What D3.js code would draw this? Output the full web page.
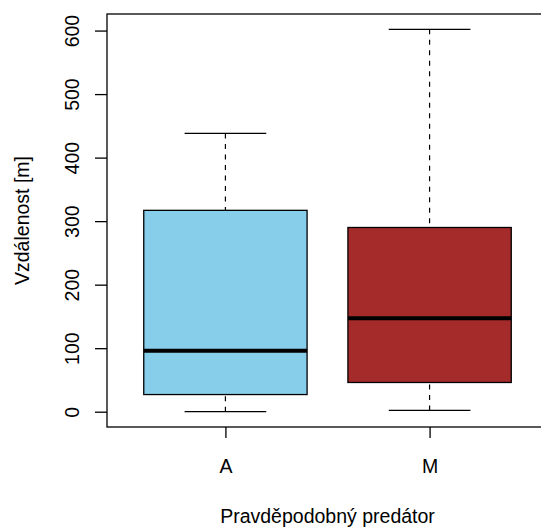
<!DOCTYPE html>
<html>
<head>
<meta charset="utf-8">
<script src="https://cdn.jsdelivr.net/npm/d3@7"></script>
<style>
  body { margin: 0; background: #fff; }
  svg { display: block; font-family: "Liberation Sans", Arial, sans-serif; }
</style>
</head>
<body>
<div id="chart"></div>
<script>
// box statistics
var groups = ["A", "M"];
var lowerWhisker = [0, 2];
var q1 = [27, 46];
var median = [96, 147];
var q3 = [317, 290];
var upperWhisker = [438, 602];
var fills = ["#87CEEB", "#A52A2A"];
var yTicks = [0, 100, 200, 300, 400, 500, 600];

var width = 541, height = 529;
var plot = {left: 107, top: 14, right: 548, bottom: 427};
var fontSize = "19.5px";

var svg = d3.select("#chart").append("svg")
    .attr("width", width)
    .attr("height", height);

// R style: x from 0.42 to 2.58 (xlim 0.5..2.5 plus 4%)
var x = d3.scaleLinear().domain([0.42, 2.58]).range([plot.left, plot.right]);
var yMin = d3.min(lowerWhisker), yMax = d3.max(upperWhisker);
var pad = (yMax - yMin) * 0.04;
var y = d3.scaleLinear().domain([yMin - pad, yMax + pad]).range([plot.bottom, plot.top]);

var data = groups.map(function(g, i) {
    return {name: g, pos: i + 1, lo: lowerWhisker[i], q1: q1[i], med: median[i],
            q3: q3[i], hi: upperWhisker[i], fill: fills[i]};
});

var boxHalf = 0.4, capHalf = 0.2;

var g = svg.append("g");

// dashed whiskers
g.selectAll("line.whiskLow").data(data).enter().append("line")
    .attr("x1", d => x(d.pos)).attr("x2", d => x(d.pos))
    .attr("y1", d => y(d.lo)).attr("y2", d => y(d.q1))
    .attr("stroke", "#000").attr("stroke-width", 1.2)
    .attr("stroke-dasharray", "5,5.5");
g.selectAll("line.whiskHigh").data(data).enter().append("line")
    .attr("x1", d => x(d.pos)).attr("x2", d => x(d.pos))
    .attr("y1", d => y(d.hi)).attr("y2", d => y(d.q3))
    .attr("stroke", "#000").attr("stroke-width", 1.2)
    .attr("stroke-dasharray", "5,5.5");

// caps
["lo", "hi"].forEach(function(k) {
    g.selectAll("line.cap" + k).data(data).enter().append("line")
        .attr("x1", d => x(d.pos - capHalf)).attr("x2", d => x(d.pos + capHalf))
        .attr("y1", d => y(d[k])).attr("y2", d => y(d[k]))
        .attr("stroke", "#000").attr("stroke-width", 1.3);
});

// boxes
g.selectAll("rect").data(data).enter().append("rect")
    .attr("x", d => x(d.pos - boxHalf))
    .attr("width", d => x(d.pos + boxHalf) - x(d.pos - boxHalf))
    .attr("y", d => y(d.q3))
    .attr("height", d => y(d.q1) - y(d.q3))
    .attr("fill", d => d.fill)
    .attr("stroke", "#000").attr("stroke-width", 1.3);

// medians
g.selectAll("line.med").data(data).enter().append("line")
    .attr("x1", d => x(d.pos - boxHalf)).attr("x2", d => x(d.pos + boxHalf))
    .attr("y1", d => y(d.med)).attr("y2", d => y(d.med))
    .attr("stroke", "#000").attr("stroke-width", 4);

// frame (right side falls outside the picture)
svg.append("rect")
    .attr("x", plot.left).attr("y", plot.top)
    .attr("width", plot.right - plot.left).attr("height", plot.bottom - plot.top)
    .attr("fill", "none").attr("stroke", "#000").attr("stroke-width", 1.3);

// y axis
var yAxis = d3.axisLeft(y).tickValues(yTicks).tickSize(12).tickPadding(0).tickFormat(d3.format("d"));
var ya = svg.append("g").attr("transform", "translate(" + plot.left + ",0)").call(yAxis);
ya.select(".domain").remove();
ya.selectAll("line").attr("stroke", "#000").attr("stroke-width", 1.3);
ya.selectAll("text").remove();
ya.selectAll(".tick").append("text")
    .attr("transform", "translate(-28,0) rotate(-90)")
    .attr("text-anchor", "middle")
    .attr("fill", "#000")
    .style("font-size", fontSize)
    .text(d => d);

// x axis
var xAxis = d3.axisBottom(x).tickValues(data.map(d => d.pos)).tickSize(11).tickPadding(0)
    .tickFormat((d, i) => groups[i]);
var xa = svg.append("g").attr("transform", "translate(0," + plot.bottom + ")").call(xAxis);
xa.select(".domain").remove();
xa.selectAll("line").attr("stroke", "#000").attr("stroke-width", 1.3);
xa.selectAll("text").attr("y", 46).attr("dy", 0).attr("fill", "#000").style("font-size", fontSize);

// axis titles
svg.append("text")
    .attr("x", x(1.5)).attr("y", 523)
    .attr("text-anchor", "middle")
    .style("font-size", fontSize)
    .text("Pravděpodobný predátor");

svg.append("text")
    .attr("transform", "translate(29," + y(yMin + (yMax - yMin) / 2) + ") rotate(-90)")
    .attr("text-anchor", "middle")
    .style("font-size", fontSize)
    .text("Vzdálenost [m]");
</script>
</body>
</html>
